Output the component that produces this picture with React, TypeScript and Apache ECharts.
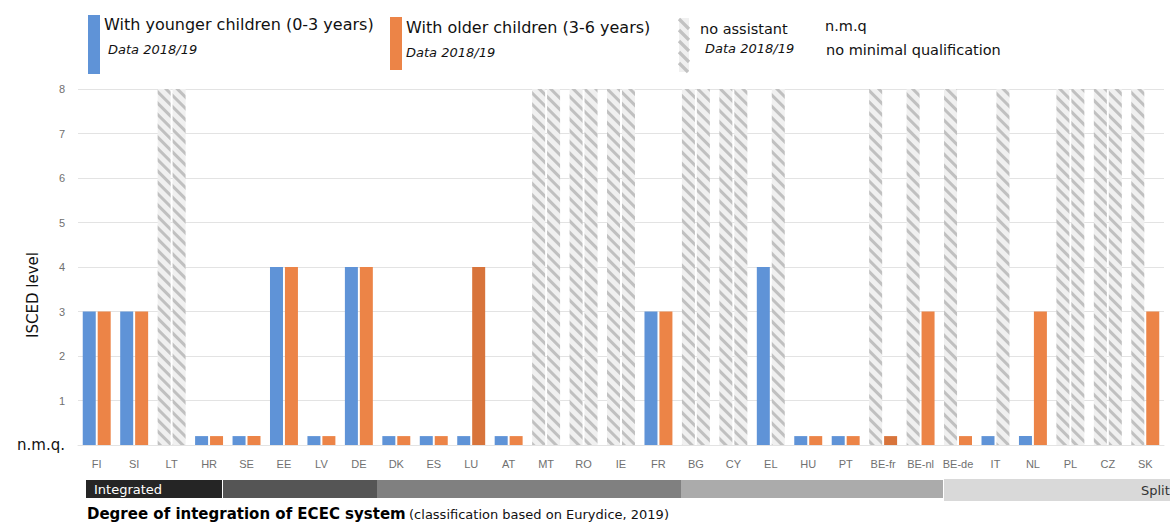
import React, { useEffect, useRef } from "react";
import * as echarts from "echarts";

const categories = ["FI","SI","LT","HR","SE","EE","LV","DE","DK","ES","LU","AT","MT","RO","IE","FR","BG","CY","EL","HU","PT","BE-fr","BE-nl","BE-de","IT","NL","PL","CZ","SK"];
// number = ISCED level, 0.2 = n.m.q. (no minimal qualification), null = no assistant
const younger: (number | null)[] = [3,3,null,0.2,0.2,4,0.2,4,0.2,0.2,0.2,0.2,null,null,null,3,null,null,4,0.2,0.2,null,null,null,0.2,0.2,null,null,null];
const older: (number | null)[] = [3,3,null,0.2,0.2,4,0.2,4,0.2,0.2,4,0.2,null,null,null,3,null,null,null,0.2,0.2,0.2,3,0.2,null,3,null,null,3];
const olderDarker = ["LU", "BE-fr"];
const yTicks = ["n.m.q.","1","2","3","4","5","6","7","8"];
const NO_ASSISTANT_LEVEL = 8;

const BLUE = "#5F93D7";
const ORANGE = "#EC8447";
const ORANGE_DARK = "#D8743B";
const FONT = "DejaVu Sans";

const hatchStyle = {
  color: "#f0f0f0",
  decal: {
    symbol: "rect",
    symbolSize: 1,
    dashArrayX: [1, 0],
    dashArrayY: [3, 5],
    rotation: Math.PI / 4,
    color: "rgba(0,0,0,0.2)",
  },
};

function buildItems(vals: (number | null)[], color: string, dark?: string[]) {
  return vals.map((v, i) => {
    if (v === null) return { value: NO_ASSISTANT_LEVEL, itemStyle: hatchStyle };
    const c = dark && dark.includes(categories[i]) ? ORANGE_DARK : color;
    return { value: v, itemStyle: { color: c } };
  });
}

function legendHatch(x: number, y: number, w: number, h: number) {
  const els: any[] = [{ type: "rect", shape: { x, y, width: w, height: h }, style: { fill: "#f0f0f0" } }];
  for (let sy = y - w; sy < y + h; sy += 11) {
    const y1 = Math.max(sy, y);
    const x1 = x + (y1 - sy);
    const y2 = Math.min(sy + w, y + h);
    const x2 = x + (y2 - sy);
    if (y2 > y1) els.push({ type: "line", shape: { x1, y1, x2, y2 }, style: { stroke: "#c2c2c2", lineWidth: 3.2 } });
  }
  return els;
}

export default function App() {
  const ref = useRef<HTMLDivElement>(null);
  useEffect(() => {
    document.body.style.margin = "0";
    const chart = echarts.init(ref.current!, null, { renderer: "svg" });
    const bands = [
      { x: 86, y: 480, w: 136, h: 18, c: "#252525" },
      { x: 223, y: 480, w: 154, h: 18, c: "#555555" },
      { x: 377, y: 480, w: 304, h: 18, c: "#808080" },
      { x: 681, y: 480, w: 262, h: 18, c: "#ababab" },
      { x: 944, y: 479, w: 226, h: 22, c: "#d9d9d9" },
    ];
    chart.setOption({
      animation: false,
      grid: { left: 78, right: 6, top: 89, bottom: 77 },
      xAxis: {
        type: "category",
        data: categories,
        axisTick: { show: false },
        axisLine: { lineStyle: { color: "#e3e3e3" } },
        axisLabel: { color: "#707070", fontSize: 11, fontFamily: "Liberation Sans", margin: 13, interval: 0 },
      },
      yAxis: {
        type: "value",
        min: 0,
        max: 8,
        interval: 1,
        axisLabel: {
          margin: 13,
          formatter: (v: number) => (v === 0 ? "{n|" + yTicks[0] + "}" : yTicks[v]),
          color: "#707070",
          fontSize: 11,
          fontFamily: "Liberation Sans",
          rich: { n: { color: "#111", fontSize: 15, fontFamily: FONT } },
        },
        splitLine: { lineStyle: { color: "#e3e3e3" } },
      },
      series: [
        { type: "bar", name: "With younger children (0-3 years)", data: buildItems(younger, BLUE), barWidth: 13, barGap: "15%" },
        { type: "bar", name: "With older children (3-6 years)", data: buildItems(older, ORANGE, olderDarker), barWidth: 13, barGap: "15%" },
      ],
      graphic: [
        { type: "rect", shape: { x: 88, y: 15, width: 12, height: 59 }, style: { fill: BLUE } },
        { type: "text", x: 104, y: 24, style: { text: "With younger children (0-3 years)", fontFamily: FONT, fontSize: 16, fill: "#111", verticalAlign: "middle" } },
        { type: "text", x: 108, y: 49, style: { text: "Data 2018/19", fontFamily: FONT, fontSize: 13, fontStyle: "italic", fill: "#111", verticalAlign: "middle" } },
        { type: "rect", shape: { x: 390, y: 17, width: 12, height: 53 }, style: { fill: ORANGE } },
        { type: "text", x: 406, y: 27, style: { text: "With older children (3-6 years)", fontFamily: FONT, fontSize: 16, fill: "#111", verticalAlign: "middle" } },
        { type: "text", x: 406, y: 52, style: { text: "Data 2018/19", fontFamily: FONT, fontSize: 13, fontStyle: "italic", fill: "#111", verticalAlign: "middle" } },
        ...legendHatch(679, 18, 10, 54),
        { type: "text", x: 700, y: 29, style: { text: "no assistant", fontFamily: FONT, fontSize: 14.5, fill: "#111", verticalAlign: "middle" } },
        { type: "text", x: 705, y: 48, style: { text: "Data 2018/19", fontFamily: FONT, fontSize: 13, fontStyle: "italic", fill: "#111", verticalAlign: "middle" } },
        { type: "text", x: 825, y: 26, style: { text: "n.m.q", fontFamily: FONT, fontSize: 14.5, fill: "#111", verticalAlign: "middle" } },
        { type: "text", x: 826, y: 50, style: { text: "no minimal qualification", fontFamily: FONT, fontSize: 14.5, fill: "#111", verticalAlign: "middle" } },
        { type: "text", x: 33, y: 295, rotation: Math.PI / 2, style: { text: "ISCED level", fontFamily: FONT, fontSize: 15, fill: "#111", align: "center", verticalAlign: "middle" } },
        ...bands.map((b) => ({ type: "rect", shape: { x: b.x, y: b.y, width: b.w, height: b.h }, style: { fill: b.c } })),
        { type: "text", x: 94, y: 489, style: { text: "Integrated", fontFamily: FONT, fontSize: 13, fill: "#fff", verticalAlign: "middle" } },
        { type: "text", x: 1141, y: 490, style: { text: "Split", fontFamily: FONT, fontSize: 13, fill: "#333", verticalAlign: "middle" } },
        {
          type: "text", x: 87, y: 514,
          style: {
            text: "{b|Degree of integration of ECEC system} {n|(classification based on Eurydice, 2019)}",
            verticalAlign: "middle",
            rich: {
              b: { fontFamily: FONT, fontSize: 15, fontWeight: "bold", fill: "#000", color: "#000" },
              n: { fontFamily: FONT, fontSize: 13, fill: "#111", color: "#111" },
            },
          },
        },
      ],
    });
    return () => chart.dispose();
  }, []);
  return <div ref={ref} style={{ width: 1170, height: 522 }} />;
}
